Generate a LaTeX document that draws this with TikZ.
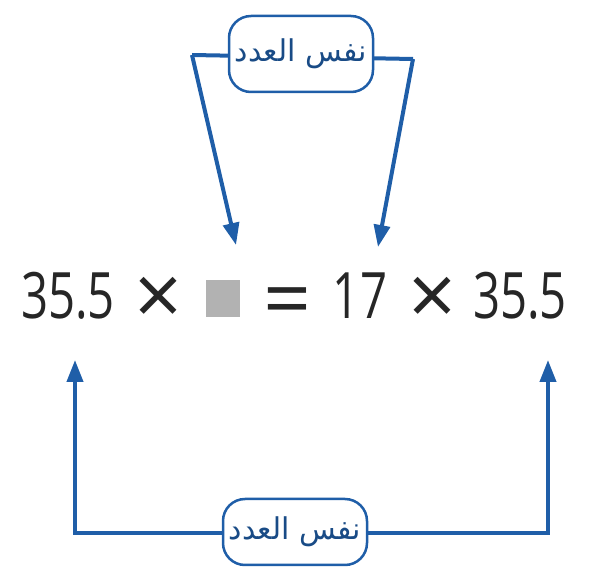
\documentclass[tikz,border=0pt]{standalone}
\usepackage{fontspec}
\setmainfont{Open Sans}
\newfontfamily\numfont[FakeStretch=0.74]{Open Sans}
\newfontfamily\symfont{Open Sans}
\newfontfamily\arabicfont[Script=Arabic]{DejaVu Sans}
\TeXXeTstate=1
\usetikzlibrary{arrows.meta}
\definecolor{lineblue}{HTML}{1F5EA8}
\tikzset{
  lbl/.style={draw=lineblue, line width=2.5pt, rounded corners=22pt, fill=white, inner sep=0pt, font=\arabicfont\fontsize{30}{34}\selectfont, text=lineblue!80!black},
  conn/.style={draw=lineblue, line width=4pt},
  arr/.style={conn, -{Triangle[length=22pt,width=16pt]}},
  eq/.style={font=\numfont\fontsize{64}{70}\selectfont, text=black!85, inner sep=0pt, anchor=base},
  sym/.style={font=\symfont\fontsize{84}{90}\selectfont, text=black!85, inner sep=0pt, anchor=base}
}
\begin{document}
\begin{tikzpicture}[x=1pt,y=-1pt]
\useasboundingbox (0,0) rectangle (590,577);
% equation
\node[eq] (a) at (68,319) {35.5};
\node[sym] (t1) at (159,326) {×};
\node[fill=black!30, minimum width=34pt, minimum height=37pt, inner sep=0pt] (sq) at (223,299) {};
\node[sym] (e) at (288,329) {=};
\node[eq] (b) at (360,319) {17};
\node[sym] (t2) at (433,326) {×};
\node[eq] (c) at (520,319) {35.5};
% top label
\coordinate (tl) at (192,55);
\coordinate (tr) at (413,59);
\coordinate (ta) at (236,245);
\coordinate (tb) at (378,247);
\draw[conn] (tl) -- (tr);
\draw[arr] (tl) -- (ta);
\draw[arr] (tr) -- (tb);
\node[lbl, minimum width=144pt, minimum height=76pt] (top) at (301,54) {\beginR نفس العدد\endR};
% bottom label
\coordinate (bl) at (75,533);
\coordinate (br) at (548,533);
\coordinate (blt) at (75,360);
\coordinate (brt) at (548,360);
\draw[conn] (br) -- (bl);
\draw[arr] (bl) ++(0,2) -- (blt);
\draw[arr] (br) ++(0,2) -- (brt);
\node[lbl, minimum width=144pt, minimum height=66pt] (bot) at (295,532) {\beginR نفس العدد\endR};
\end{tikzpicture}
\end{document}
